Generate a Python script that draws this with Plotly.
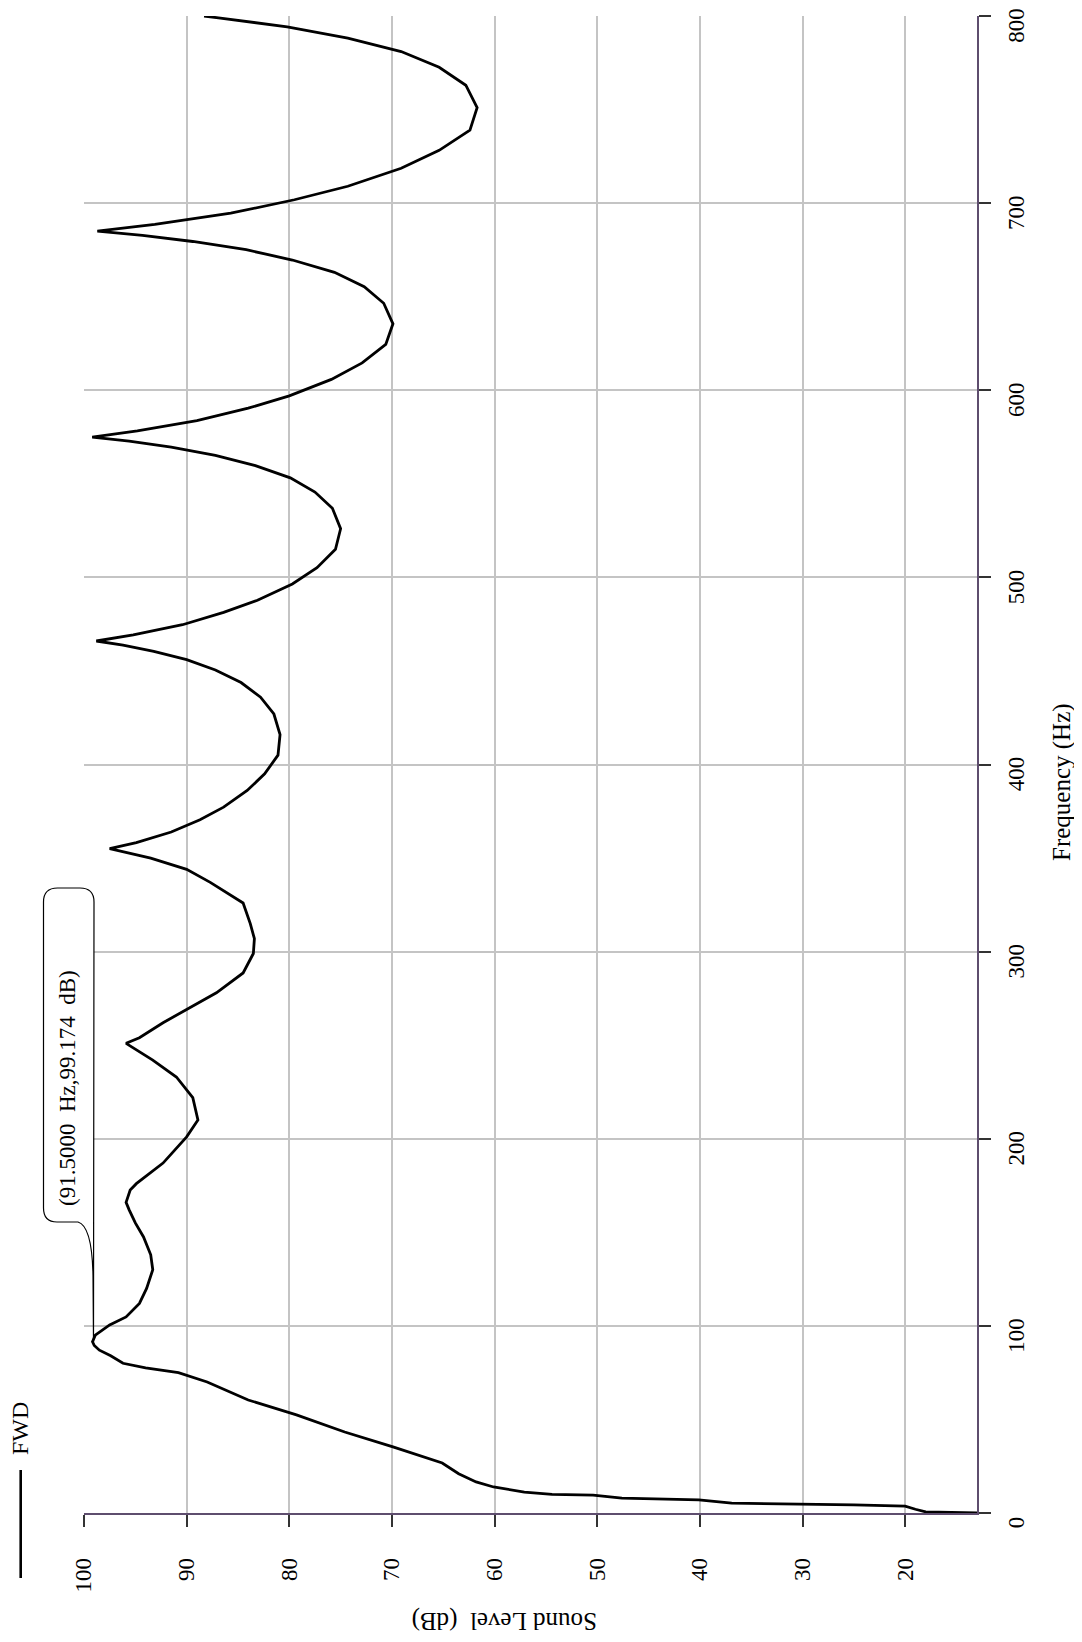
import plotly.graph_objects as go

# ---- data (Frequency in Hz, Sound Level in dB) ----
freq_rise = [0, 0.6, 2.0, 3.7, 4.3, 4.8, 5.3, 7.0, 8.0, 9.6, 10.0, 11.2, 13.9, 16.6, 21.0, 26.7,
             35.3, 43.3, 52.4, 60.4, 65, 70, 75, 77.5, 80, 84, 87, 89.5, 91.5]
level_rise = [12.5, 18.0, 19.0, 20.0, 25.0, 30.2, 36.9, 40.1, 47.6, 50.4, 54.4, 57.1, 60.1, 61.8, 63.5, 65.1,
              69.9, 74.6, 79.3, 84.0, 86.0, 88.0, 90.8, 94.0, 96.2, 97.4, 98.5, 99.0, 99.17]

freq_b = [95, 100.5, 104.8, 112, 120, 130, 138, 147.5, 155, 162, 166, 172.6, 176, 187, 201, 210, 222, 233, 242, 251]
level_b = [98.9, 97.5, 95.9, 94.6, 93.9, 93.3, 93.5, 94.2, 95.0, 95.6, 95.9, 95.5, 94.9, 92.3, 90.0, 88.9, 89.4,
           91.0, 93.3, 95.9]

freq_c = [254, 262, 269, 278, 288.6, 299, 307, 315, 326, 337, 344, 350, 355]
level_c = [94.6, 92.3, 90.0, 87.1, 84.5, 83.5, 83.4, 83.8, 84.5, 87.7, 90.0, 93.5, 97.5]

freq_d = [358.3, 363.9, 370.5, 377.2, 386.1, 395, 405, 416, 427, 436, 443.8, 450.5, 456, 460.5, 463.8, 466]
level_d = [94.9, 91.5, 88.7, 86.4, 84.1, 82.4, 81.1, 80.9, 81.5, 82.8, 84.7, 87.2, 90.0, 93.2, 96.2, 98.8]

freq_e = [469.3, 474.7, 481.3, 487.8, 496.5, 505.2, 515, 526, 536.9, 545.6, 553.2, 559.7, 565.2, 569.6, 572.8, 575]
level_e = [95.2, 90.4, 86.4, 83.1, 79.7, 77.3, 75.5, 75.0, 75.8, 77.5, 79.9, 83.3, 87.2, 91.5, 95.6, 99.2]

freq_f = [578.3, 583.8, 590.4, 597, 605.8, 614.6, 624.5, 635.5, 646.5, 655.3, 663, 669.6, 675.1, 679.5, 682.8, 685]
level_f = [94.8, 89.0, 84.0, 80.0, 75.9, 72.9, 70.6, 69.9, 70.8, 72.7, 75.6, 79.7, 84.2, 89.4, 94.3, 98.7]

freq_g = [688.6, 694.6, 701.8, 709, 718.6, 728.2, 739, 751, 763, 772.6, 781, 788.2, 794.2, 799, 800]
level_g = [93.1, 85.7, 79.5, 74.3, 69.1, 65.4, 62.4, 61.7, 62.8, 65.4, 69.1, 74.3, 80.2, 86.9, 88.3]

level_ticks = [20, 30, 40, 50, 60, 70, 80, 90, 100]
freq_ticks = [0, 100, 200, 300, 400, 500, 600, 700, 800]

series_name = "FWD"
marker_text = "(91.5000\u00a0\u00a0Hz,99.174\u00a0\u00a0dB)"

freq = freq_rise + freq_b + freq_c + freq_d + freq_e + freq_f + freq_g
level = level_rise + level_b + level_c + level_d + level_e + level_f + level_g

# ---- layout geometry ----
# The page body has an 8px default margin, so the figure is sized to fit
# inside it; page coordinates below are converted to paper units.
OFF = 8
W, H = 1082 - 2 * OFF, 1642 - 2 * OFF
L, T = 84 - OFF, 16 - OFF
R = W - (977 - OFF)
B = H - (1513 - OFF)
PW, PH = W - L - R, H - T - B


def px(x):
    return (x - OFF - L) / PW


def py(y):
    return (H - B - (y - OFF)) / PH


FONT = "Liberation Serif, Times New Roman, serif"
AXIS_COL = "#5e4d6e"
GRID_COL = "#c4c4c4"

fig = go.Figure()
fig.add_trace(go.Scatter(x=level, y=freq, mode="lines",
                         line=dict(color="black", width=2.8),
                         showlegend=False, name=series_name))

# callout shape (rounded box with tail)
path = (
    f"M {px(57.5)},{py(888)} L {px(80)},{py(888)} "
    f"Q {px(94)},{py(888)} {px(94)},{py(902)} "
    f"L {px(93.5)},{py(1342)} "
    f"L {px(93)},{py(1275)} "
    f"Q {px(92)},{py(1226)} {px(78)},{py(1222)} "
    f"L {px(57)},{py(1222)} "
    f"Q {px(43.5)},{py(1222)} {px(43.5)},{py(1208)} "
    f"L {px(43.5)},{py(902)} "
    f"Q {px(43.5)},{py(888)} {px(57.5)},{py(888)} Z"
)

shapes = [
    dict(type="path", xref="paper", yref="paper", path=path,
         fillcolor="white", line=dict(color="black", width=1.2), layer="above"),
    dict(type="line", xref="paper", yref="paper",
         x0=px(20.7), x1=px(20.7), y0=py(1470), y1=py(1578),
         line=dict(color="black", width=2.6)),
]

annotations = [
    dict(text=marker_text, textangle=-90, xref="paper", yref="paper",
         x=px(67), y=py(1088), showarrow=False, xanchor="center", yanchor="middle",
         font=dict(family=FONT, size=23, color="black")),
    dict(text=series_name, textangle=-90, xref="paper", yref="paper",
         x=px(20), y=py(1429), showarrow=False, xanchor="center", yanchor="middle",
         font=dict(family=FONT, size=24, color="black")),
    dict(text="Frequency\u00a0(Hz)", textangle=-90, xref="paper", yref="paper",
         x=px(1062), y=py(782), showarrow=False, xanchor="center", yanchor="middle",
         font=dict(family=FONT, size=25, color="black")),
    dict(text="Sound\u00a0Level\u00a0\u00a0(dB)", textangle=180, xref="paper", yref="paper",
         x=px(505), y=py(1621), showarrow=False, xanchor="center", yanchor="middle",
         font=dict(family=FONT, size=25, color="black")),
]

fig.update_layout(
    width=W, height=H,
    margin=dict(l=L, r=R, t=T, b=B, pad=0, autoexpand=False),
    paper_bgcolor="white", plot_bgcolor="white",
    showlegend=False,
    shapes=shapes, annotations=annotations,
    font=dict(family=FONT, size=23, color="black"),
    xaxis=dict(range=[100, 13], tickvals=level_ticks, side="bottom", automargin=False,
               tickangle=-90, ticks="outside", ticklen=12, tickwidth=1.5, tickcolor="#333333",
               showline=True, linecolor=AXIS_COL, linewidth=1.5,
               showgrid=True, gridcolor=GRID_COL, gridwidth=2, zeroline=False,
               ticklabelstandoff=22, ticklabeloverflow="allow",
               tickfont=dict(family=FONT, size=23, color="black")),
    yaxis=dict(range=[0, 800], tickvals=freq_ticks, side="right", automargin=False,
               tickangle=-90, ticks="outside", ticklen=12, tickwidth=1.5, tickcolor="#333333",
               showline=True, linecolor=AXIS_COL, linewidth=1.5,
               showgrid=True, gridcolor=GRID_COL, gridwidth=2, zeroline=False,
               ticklabelshift=13, ticklabelstandoff=6, ticklabeloverflow="allow",
               tickfont=dict(family=FONT, size=23, color="black")),
)

fig.write_html("out.html")
